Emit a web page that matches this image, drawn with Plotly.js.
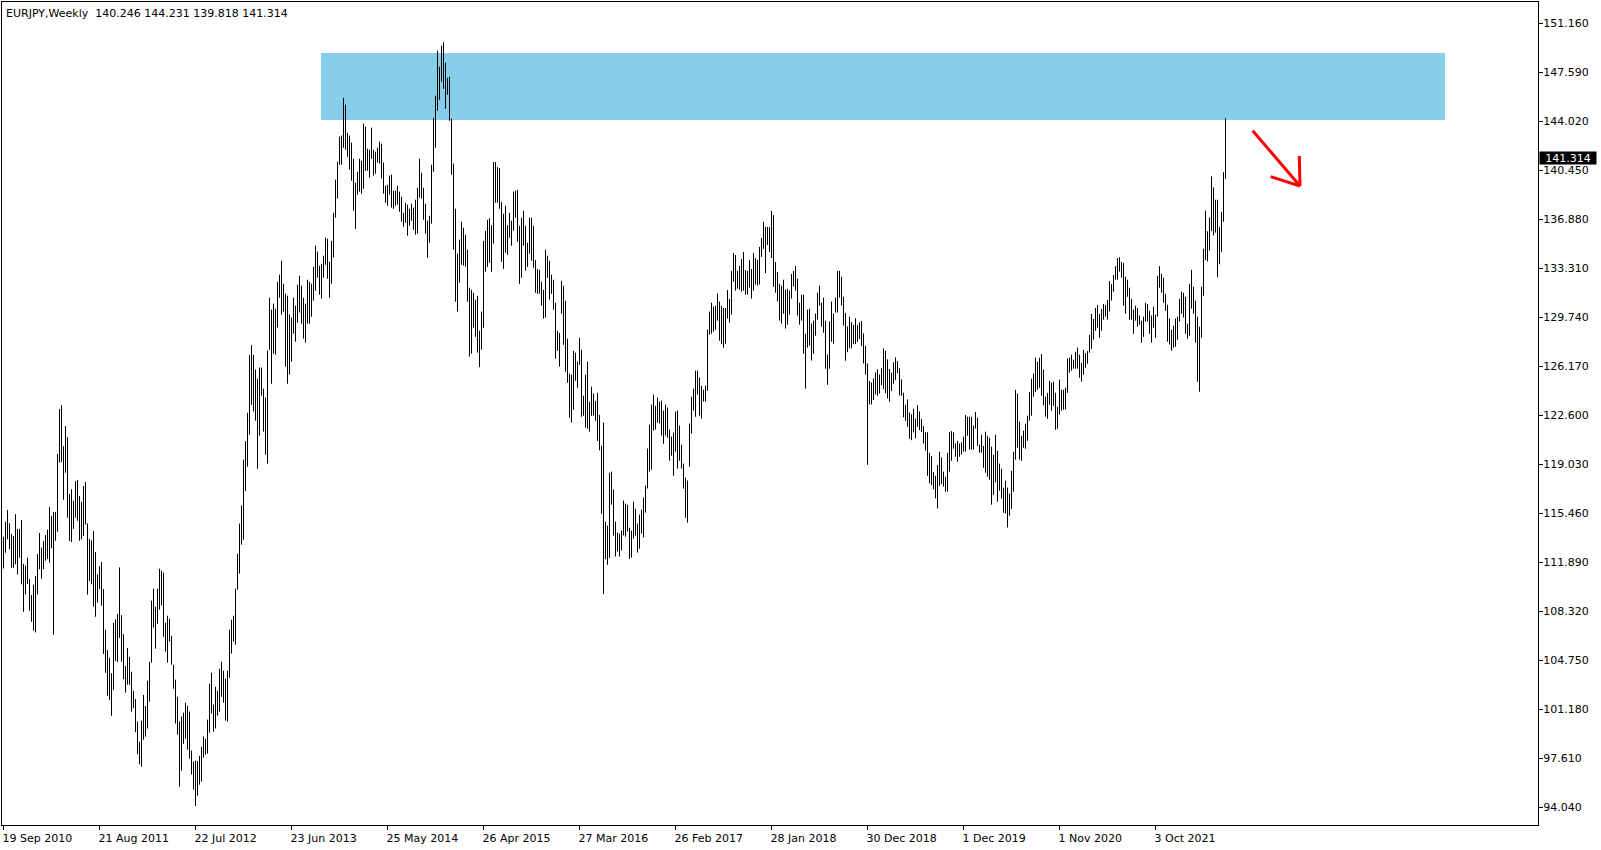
<!DOCTYPE html>
<html><head><meta charset="utf-8">
<script src="https://cdn.plot.ly/plotly-3.0.1.min.js"></script>
<style>html,body{margin:0;padding:0;background:#fff;overflow:hidden}#chart{width:1601px;height:850px}</style>
</head><body><div id="chart"></div>
<script>
const symbol = 'EURJPY';
const timeframe = 'Weekly';
const lastOpen = 140.246;
const lastClose = 141.314;

// weekly highs, first bar = week of 19 Sep 2010
const highs = [
113.75,114.84,115.69,114.72,113.94,113.80,115.39,114.32,114.32,114.96,
111.77,111.63,112.22,110.66,109.49,110.25,110.88,112.48,114.02,112.95,
113.43,113.87,114.26,115.91,115.25,115.54,115.54,119.77,123.05,123.33,
120.34,121.81,121.00,116.86,117.20,116.37,117.80,117.88,116.71,116.30,
117.44,117.73,114.72,113.60,113.48,114.16,112.63,111.00,111.60,111.90,
109.93,106.97,105.49,104.93,103.81,107.47,107.72,108.11,111.51,108.03,
106.65,104.33,105.64,104.99,103.91,102.53,101.92,100.28,98.81,100.35,
102.22,101.41,103.26,104.64,109.09,109.96,108.65,109.96,111.41,111.28,
111.13,107.48,107.99,107.77,106.53,104.42,103.33,102.09,100.28,100.64,
100.93,101.65,101.43,101.00,98.16,97.36,97.43,97.41,97.79,98.44,
99.18,99.03,100.42,103.04,103.84,101.51,102.82,102.53,104.13,104.64,
103.98,103.40,103.98,106.97,107.70,107.99,109.96,112.51,114.70,116.01,
119.36,120.71,122.78,126.99,127.71,126.99,125.92,125.26,126.07,126.07,
124.53,123.88,127.30,131.16,130.29,130.73,130.36,132.32,132.84,133.86,
132.18,131.45,131.31,129.93,129.71,131.16,130.58,132.11,132.76,132.04,
131.16,130.73,132.47,132.32,132.18,133.41,134.96,134.52,133.49,133.63,
134.22,135.53,135.46,133.78,135.31,137.35,139.76,141.07,142.90,142.97,
145.73,145.22,143.18,142.97,142.46,141.28,139.54,140.34,141.28,141.14,
143.84,143.62,142.02,141.94,143.55,141.94,141.80,142.09,142.53,142.38,
141.00,139.32,139.39,140.05,140.12,138.96,138.96,139.32,138.89,138.52,
137.35,138.08,137.94,137.64,138.01,137.72,138.30,139.17,141.28,140.27,
139.17,138.01,136.77,137.13,140.85,144.27,145.88,149.15,148.00,149.52,
149.78,148.28,147.19,147.26,144.20,140.93,137.64,134.37,135.39,136.70,
136.26,135.75,134.66,131.89,131.74,131.52,131.02,131.30,128.75,130.15,
135.31,136.02,136.84,136.96,136.45,141.04,141.04,140.68,140.60,138.13,
137.27,137.86,136.45,137.34,136.77,138.89,138.96,139.03,136.40,136.99,
137.49,136.40,135.16,136.99,136.99,136.40,133.92,133.26,133.19,132.32,
131.74,134.66,134.22,133.85,132.83,132.47,130.80,128.75,128.60,132.39,
132.03,130.94,128.17,125.62,125.55,127.29,127.16,126.50,128.24,127.37,
124.02,125.55,126.50,123.58,124.67,124.17,123.65,124.23,122.62,120.37,
122.06,114.85,114.55,118.41,118.49,117.18,114.85,114.05,113.97,114.19,
116.38,116.16,116.08,114.40,114.19,116.30,115.79,114.70,115.35,115.72,
116.60,117.47,120.17,121.92,123.37,124.10,123.29,123.88,123.59,123.66,
122.94,123.37,123.16,121.55,121.04,121.33,122.86,122.94,121.84,120.45,
119.07,118.05,117.84,121.99,123.95,124.53,125.85,125.85,125.34,124.75,
124.46,124.75,128.83,130.15,130.80,130.51,130.58,131.46,130.88,130.56,
130.41,130.41,131.72,131.07,133.11,134.42,134.27,133.11,133.47,133.98,
134.49,133.17,133.11,133.91,133.25,134.42,134.05,133.91,134.86,135.51,
136.68,136.31,136.31,136.31,137.48,137.18,133.76,133.04,132.18,132.04,
132.47,131.75,131.82,131.68,132.89,133.11,133.47,132.55,130.80,131.38,
131.38,128.54,130.29,130.36,129.27,129.49,130.00,131.53,132.04,130.80,
131.16,129.49,127.02,129.42,130.88,130.00,131.16,133.11,133.11,132.69,
131.24,130.06,129.07,129.77,129.37,129.17,129.67,129.17,129.37,129.47,
128.56,127.66,126.37,125.09,124.99,125.28,125.72,125.94,125.57,126.02,
127.46,127.29,126.67,125.97,125.70,126.45,126.81,126.54,126.02,125.21,
124.23,123.36,123.75,122.80,122.66,123.07,122.36,123.33,122.88,122.32,
121.81,121.35,121.35,119.86,119.62,118.45,118.19,118.97,119.94,119.52,
118.48,118.12,119.86,121.37,121.44,121.35,120.54,120.73,120.54,120.63,
121.03,122.61,122.49,122.49,122.49,121.84,122.83,122.42,120.44,121.18,
120.37,121.40,121.10,120.96,120.30,119.72,121.18,120.01,119.07,118.70,
117.32,117.83,117.32,116.89,118.55,119.94,124.45,124.17,122.13,121.10,
121.47,121.98,122.56,124.30,125.26,125.63,126.79,126.50,126.79,127.06,
125.92,123.95,124.23,125.11,124.97,125.04,124.23,123.21,125.19,124.45,
124.45,124.60,126.72,126.79,127.01,126.64,127.22,127.52,127.01,126.41,
127.36,127.13,127.27,128.44,129.98,129.61,130.41,130.63,129.98,130.33,
130.70,130.63,131.00,132.37,132.15,132.81,133.46,134.05,134.12,133.76,
133.68,132.69,132.47,131.89,131.07,130.29,130.58,130.41,129.86,129.49,
129.78,130.78,130.70,130.21,129.86,130.51,129.93,132.76,133.46,132.91,
132.62,131.45,130.65,129.64,128.83,129.12,129.64,129.78,131.08,131.60,
131.52,131.23,129.27,132.17,133.19,131.96,130.95,129.78,129.05,131.96,
134.73,137.50,136.00,137.00,140.00,139.20,138.30,138.30,136.30,137.40,
140.30,144.231];

const lows = [
111.43,112.58,113.55,112.83,111.48,111.48,111.73,111.00,112.22,110.28,
108.28,109.54,110.30,108.35,107.55,106.90,106.77,109.54,111.38,110.68,
111.38,112.00,112.12,111.85,112.90,106.60,113.45,114.11,119.14,119.21,
116.44,118.41,115.13,113.43,113.36,114.32,115.13,114.91,113.45,113.55,
113.80,114.64,109.52,110.51,110.28,108.65,107.91,108.94,109.93,108.72,
105.20,103.83,102.16,101.85,100.70,102.59,104.69,104.61,106.38,104.64,
103.35,102.38,102.97,102.97,101.00,101.25,99.50,97.89,97.17,96.99,
98.96,99.18,99.77,101.73,104.57,107.12,105.59,107.40,108.43,108.73,
106.46,105.37,104.57,106.10,104.42,102.67,100.13,99.32,95.54,96.70,
98.66,99.03,98.23,97.57,96.42,95.32,94.12,94.88,95.68,95.90,
97.65,97.87,97.94,99.47,100.86,99.54,99.77,100.71,101.00,102.09,
101.65,100.35,100.28,103.47,105.23,106.10,105.88,109.89,111.06,113.17,
113.53,117.07,118.85,121.18,123.36,122.86,122.20,118.70,121.11,124.02,
121.40,119.72,119.07,127.37,124.89,127.09,127.01,128.98,131.16,129.93,
130.15,126.13,124.89,125.56,126.50,128.54,127.96,129.34,130.08,129.27,
128.17,127.88,129.27,129.27,129.78,130.95,131.67,132.62,131.38,131.10,
132.62,133.56,132.54,131.16,132.18,134.08,136.99,138.38,140.85,140.85,
142.09,141.94,141.43,140.49,139.69,137.50,136.18,138.67,138.89,138.74,
139.10,140.41,140.41,139.91,141.28,140.05,140.19,141.00,140.93,139.83,
138.74,138.08,137.86,138.67,137.72,137.64,137.86,137.94,137.42,136.70,
136.33,136.62,135.68,136.40,136.77,136.11,135.75,135.83,138.45,138.38,
136.84,135.83,134.07,135.17,136.55,140.34,142.09,144.79,145.58,146.90,
146.39,144.93,145.95,144.05,140.12,134.66,130.87,130.15,132.25,133.56,
133.49,133.41,130.87,126.87,127.09,128.97,128.31,127.16,126.10,127.37,
128.97,133.05,133.41,133.70,133.05,135.10,138.08,138.08,137.64,133.78,
133.26,134.44,134.29,135.53,134.95,136.04,136.99,135.24,132.17,132.61,
134.95,133.13,133.41,134.36,133.85,133.34,131.52,131.45,131.45,130.58,
129.63,129.71,132.61,131.02,131.45,130.28,126.72,127.29,126.13,130.00,
127.73,125.77,124.96,122.41,122.06,123.00,125.11,124.60,126.27,122.49,
122.56,121.69,121.62,121.40,122.56,122.56,122.20,120.73,120.04,115.41,
109.57,112.10,111.70,112.20,116.08,113.83,112.30,112.66,112.30,112.74,
113.83,113.75,114.12,112.12,112.22,113.61,113.83,112.59,112.88,113.97,
113.68,115.50,117.26,118.49,118.63,121.48,121.55,122.06,121.99,121.11,
120.52,121.11,120.96,119.28,119.65,118.19,119.95,118.71,119.28,118.71,
117.25,115.13,114.77,118.85,121.26,122.94,122.49,124.10,122.57,122.35,
123.59,123.59,124.38,128.47,128.54,128.69,128.83,129.49,128.03,127.78,
127.52,127.81,129.64,129.35,129.93,132.33,131.68,131.82,131.75,131.60,
131.68,131.38,131.38,131.90,131.10,131.68,132.12,132.04,132.12,134.13,
134.72,132.96,135.00,134.49,134.05,131.95,131.53,130.88,129.49,129.27,
130.00,128.91,129.20,129.93,131.10,131.97,131.68,129.86,129.20,129.49,
127.08,124.53,127.52,127.67,126.58,127.08,128.39,129.57,130.58,129.05,
128.61,125.99,124.82,125.99,127.96,127.81,130.08,130.08,131.16,130.58,
129.13,126.57,127.19,127.48,127.46,127.78,127.78,127.95,128.15,127.64,
126.37,125.57,118.99,123.38,123.38,123.70,124.11,124.02,124.18,124.79,
124.50,124.20,123.82,123.58,124.35,124.91,125.16,125.65,124.04,124.02,
122.44,122.19,121.76,120.88,120.78,121.35,120.91,121.76,121.52,121.37,
120.54,120.01,118.19,117.63,117.49,117.20,116.54,115.81,117.44,117.58,
117.39,117.03,117.03,118.48,119.28,120.16,119.57,119.21,119.57,119.74,
119.94,119.94,121.10,120.09,120.09,120.09,121.62,120.37,119.87,119.87,
118.77,118.41,118.12,117.90,116.08,116.81,117.71,116.30,117.10,116.52,
115.49,115.44,114.42,115.28,115.78,117.03,119.36,120.23,119.36,119.28,
120.23,120.16,120.74,122.21,122.56,123.95,124.30,124.45,124.60,124.02,
123.31,122.49,122.34,123.36,122.93,123.29,121.54,121.62,122.64,122.93,
123.00,123.02,124.23,125.70,125.85,125.99,125.99,125.99,125.33,125.04,
125.55,126.06,126.35,127.16,127.44,128.10,128.75,128.97,128.24,128.75,
129.56,129.78,129.56,130.15,130.95,131.60,132.47,132.47,133.06,132.62,
130.58,130.00,131.23,129.56,129.56,128.53,129.49,129.05,129.19,127.88,
128.31,129.42,129.42,128.53,127.88,128.97,128.24,129.78,131.89,131.52,
130.80,130.21,127.96,127.74,127.30,127.52,127.59,128.10,129.42,130.00,
129.71,128.53,128.17,128.39,130.36,130.00,127.88,125.04,124.31,128.24,
131.30,133.90,133.80,134.60,136.00,135.70,135.90,132.65,133.60,134.50,
136.70,139.818];

// x axis labels (bar index of each label, label text)
const xTickIndex = [0,48,96,144,192,240,288,336,384,432,480,528,576];
const xTickLabels = ['19 Sep 2010','21 Aug 2011','22 Jul 2012','23 Jun 2013','25 May 2014',
  '26 Apr 2015','27 Mar 2016','26 Feb 2017','28 Jan 2018','30 Dec 2018','1 Dec 2019',
  '1 Nov 2020','3 Oct 2021'];
// y axis price levels
const yTickValues = [151.160,147.590,144.020,140.450,136.880,133.310,129.740,126.170,
  122.600,119.030,115.460,111.890,108.320,104.750,101.180,97.610,94.040];

// resistance zone (bar index span, price span)
const zoneStartBar = 158.75, zoneEndBar = 720.75;
const zoneLow = 144.11, zoneHigh = 148.99;

// ---- build ----
const W = 1601, H = 850;
const M = {l: 2, r: 63, t: 2, b: 25};
const plotW = W - M.l - M.r, plotH = H - M.t - M.b;
const pxPerBar = 2, bar0Offset = 1.5;
const pxPerPrice = 13.725, topPrice = 152.705;
const xRange = [-bar0Offset / pxPerBar, (plotW - bar0Offset) / pxPerBar];
const yRange = [topPrice - plotH / pxPerPrice, topPrice];

const xs = [], ys = [];
for (let i = 0; i < highs.length; i++) {
  xs.push(i, i, null);
  ys.push(lows[i], highs[i], null);
}
const n = highs.length;
const FONT = 'DejaVu Sans, Verdana, sans-serif';

const trace = {
  type: 'scatter', mode: 'lines', x: xs, y: ys,
  line: {color: '#000000', width: 1}, hoverinfo: 'skip', connectgaps: false, showlegend: false
};

const redLine = {color: '#ff0000', width: 3};
const layout = {
  width: W, height: H,
  margin: M,
  paper_bgcolor: '#ffffff', plot_bgcolor: '#ffffff',
  showlegend: false,
  xaxis: {
    range: xRange, showgrid: false, zeroline: false,
    showline: true, mirror: true, linecolor: '#000', linewidth: 1,
    ticks: 'outside', ticklen: 4, tickcolor: '#000', tickwidth: 1,
    tickvals: xTickIndex, ticktext: xTickLabels,
    ticklabelposition: 'outside right', ticklabelshift: -2, ticklabelstandoff: 3,
    tickfont: {family: FONT, size: 11, color: '#000'},
    fixedrange: true
  },
  yaxis: {
    range: yRange, side: 'right', showgrid: false, zeroline: false,
    showline: true, mirror: true, linecolor: '#000', linewidth: 1,
    ticks: 'outside', ticklen: 4, tickcolor: '#000', tickwidth: 1,
    tickvals: yTickValues, ticktext: yTickValues.map(v => v.toFixed(3)),
    ticklabelstandoff: -2,
    tickfont: {family: FONT, size: 11, color: '#000'},
    fixedrange: true
  },
  shapes: [
    {type: 'rect', xref: 'x', yref: 'y', x0: zoneStartBar, x1: zoneEndBar, y0: zoneLow, y1: zoneHigh,
     fillcolor: '#87CEEB', line: {width: 0}, layer: 'below'},
    {type: 'line', xref: 'x', yref: 'y', x0: 624.6, y0: 143.33, x1: 648.25, y1: 139.30, line: redLine},
    {type: 'line', xref: 'x', yref: 'y', x0: 633.6, y0: 139.98, x1: 648.25, y1: 139.30, line: redLine},
    {type: 'line', xref: 'x', yref: 'y', x0: 647.9, y0: 141.48, x1: 648.25, y1: 139.30, line: redLine}
  ],
  annotations: [
    {xref: 'paper', yref: 'paper', x: 0, y: 1, xanchor: 'left', yanchor: 'top', xshift: 2, yshift: -3,
     showarrow: false, align: 'left',
     text: symbol + ',' + timeframe + '\u00a0\u00a0' + lastOpen.toFixed(3) + ' ' + highs[n-1].toFixed(3) + ' ' +
           lows[n-1].toFixed(3) + ' ' + lastClose.toFixed(3),
     font: {family: FONT, size: 11, color: '#000'}},
    {xref: 'paper', yref: 'y', x: 1, y: lastClose, xanchor: 'left', yanchor: 'middle', xshift: 1,
     showarrow: false, text: lastClose.toFixed(3), bgcolor: '#000', borderpad: 0, width: 56, height: 12,
     font: {family: FONT, size: 11, color: '#fff'}}
  ]
};

Plotly.newPlot('chart', [trace], layout, {staticPlot: true, displayModeBar: false});
</script>
</body></html>
